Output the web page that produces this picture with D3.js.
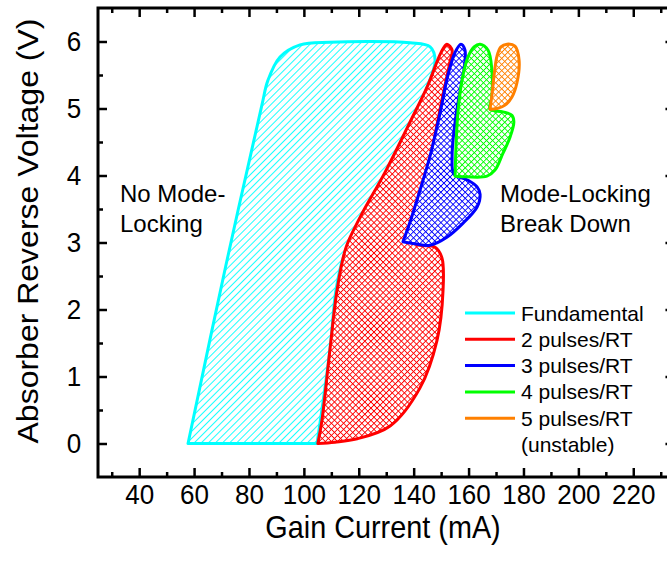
<!DOCTYPE html>
<html>
<head>
<meta charset="utf-8">
<script src="https://cdn.jsdelivr.net/npm/d3@7"></script>
<style>
  body { margin: 0; background: #fff; overflow: hidden; }
  text { font-family: "Liberation Sans", Arial, sans-serif; fill: #000; }
</style>
</head>
<body>
<div id="chart"></div>
<script>
// operating regions, [gain current (mA), absorber voltage (V)] outline points,
// each one starting at its sharp corner
const fundamental = [
  [104.8, 0.0], [109.5, 1.40], [111.7, 2.29], [114.6, 2.81], [120.4, 3.31],
  [129.6, 3.99], [138.7, 4.74], [145.2, 5.35], [147.8, 5.72], [146.0, 5.92], [138.7, 5.98],
  [109.5, 5.99], [98.6, 5.95], [91.3, 5.77], [86.9, 5.42], [84.7, 5.05], [71.6, 2.66], [57.8, 0.0]
];
const twoPulses = [
  [105.1, 0.0], [111.3, 0.02], [119.4, 0.07], [131.4, 0.26], [142.3, 0.83], [148.5, 1.54],
  [150.7, 2.29], [150.3, 2.77], [147.8, 2.93], [140.5, 2.99], [143.0, 3.63], [146.7, 4.38],
  [150.3, 5.13], [153.2, 5.69], [154.0, 5.87], [152.1, 5.96], [149.9, 5.83], [145.2, 5.35],
  [138.7, 4.80], [129.6, 4.05], [120.4, 3.37], [115.3, 2.92], [112.1, 2.29], [109.5, 1.40],
  [106.6, 0.35]
];
const threePulses = [
  [136.1, 3.01], [138.7, 3.31], [142.3, 3.78], [145.9, 4.28], [149.6, 4.93], [152.5, 5.50],
  [155.1, 5.84], [157.2, 5.96], [158.7, 5.87], [158.3, 5.57], [156.5, 5.17], [154.7, 4.67],
  [154.0, 4.28], [154.7, 4.02], [159.8, 3.93], [163.1, 3.83], [164.2, 3.72], [163.1, 3.53],
  [158.0, 3.29], [152.1, 3.08], [145.9, 2.96], [140.5, 2.98]
];
const fourPulses = [
  [155.1, 3.99], [155.4, 4.42], [156.1, 4.93], [157.6, 5.42], [159.8, 5.77], [162.0, 5.92],
  [164.2, 5.96], [167.1, 5.87], [168.5, 5.57], [168.5, 5.17], [167.8, 4.99], [172.5, 4.95],
  [175.8, 4.90], [176.5, 4.80], [175.1, 4.57], [172.5, 4.33], [169.6, 4.08], [166.7, 3.99],
  [159.4, 3.98]
];
const fivePulses = [
  [167.8, 4.99], [168.5, 5.20], [169.3, 5.50], [170.4, 5.79], [171.8, 5.92], [174.0, 5.96],
  [176.9, 5.93], [178.4, 5.72], [177.6, 5.38], [175.8, 5.17], [173.3, 5.05], [170.4, 5.00]
];

const seriesNames = ["Fundamental", "2 pulses/RT", "3 pulses/RT", "4 pulses/RT", "5 pulses/RT"];
const seriesColors = ["#00ffff", "#ff0000", "#0000ff", "#00ff00", "#ff8000"];
const currentTicks = [40, 60, 80, 100, 120, 140, 160, 180, 200, 220];
const currentMinor = [30, 50, 70, 90, 110, 130, 150, 170, 190, 210, 230];
const voltageTicks = [0, 1, 2, 3, 4, 5, 6];
const voltageMinor = [0.5, 1.5, 2.5, 3.5, 4.5, 5.5];

const width = 680, height = 563;
const plotLeft = 98, plotTop = 8, plotBottom = 477;
const squeeze = "scale(0.93,1)"; // the source text is a bit narrow

const svg = d3.select("#chart").append("svg")
  .attr("width", width)
  .attr("height", height);

const x = d3.scaleLinear().domain([25, 235]).range([plotLeft, plotLeft + 210 * 2.745]);
const y = d3.scaleLinear().domain([-0.5, 6.5]).range([plotBottom, plotTop]);
const plotRight = x.range()[1];

// fill patterns: single hatch for fundamental, fine cross hatch for the rest
const defs = svg.append("defs");
const hatch = defs.append("pattern")
  .attr("id", "hatch0")
  .attr("patternUnits", "userSpaceOnUse")
  .attr("width", 5).attr("height", 5)
  .attr("patternTransform", "rotate(45)");
hatch.append("rect").attr("width", 5).attr("height", 5).attr("fill", "#fff");
hatch.append("line").attr("x1", 0).attr("y1", 0).attr("x2", 0).attr("y2", 5)
  .attr("stroke", seriesColors[0]).attr("stroke-width", 1.8);

seriesColors.slice(1).forEach((c, i) => {
  const p = defs.append("pattern")
    .attr("id", "hatch" + (i + 1))
    .attr("patternUnits", "userSpaceOnUse")
    .attr("width", 4.3).attr("height", 4.3)
    .attr("patternTransform", "rotate(45)");
  p.append("rect").attr("width", 4.3).attr("height", 4.3).attr("fill", "#fff");
  p.append("line").attr("x1", 0).attr("y1", 0).attr("x2", 0).attr("y2", 4.3)
    .attr("stroke", c).attr("stroke-width", 1.8);
  p.append("line").attr("x1", 0).attr("y1", 0).attr("x2", 4.3).attr("y2", 0)
    .attr("stroke", c).attr("stroke-width", 1.8);
});

const outline = d3.line()
  .x(d => x(d[0]))
  .y(d => y(d[1]))
  .curve(d3.curveCatmullRom.alpha(0.5));

// fundamental closes with a straight base at 0 V, the others return to their corner
const regions = [fundamental, twoPulses, threePulses, fourPulses, fivePulses];
svg.append("g").selectAll("path")
  .data(regions)
  .join("path")
  .attr("d", (d, i) => outline(i === 0 ? d : d.concat([d[0]])) + "Z")
  .attr("fill", (d, i) => `url(#hatch${i})`)
  .attr("stroke", (d, i) => seriesColors[i])
  .attr("stroke-width", 3)
  .attr("stroke-linejoin", "round");

// axes, ticks drawn inward on all four sides
const tickStyle = g => {
  g.select(".domain").remove();
  g.selectAll(".tick line").attr("stroke", "#000").attr("stroke-width", 2.5);
  g.selectAll(".tick text")
    .style("font-size", "28px")
    .attr("fill", "#000")
    .attr("transform", squeeze);
};

svg.append("g").attr("transform", `translate(0,${plotBottom})`)
  .call(d3.axisBottom(x).tickValues(currentTicks).tickSize(-9).tickPadding(7))
  .call(tickStyle);
svg.append("g").attr("transform", `translate(0,${plotBottom})`)
  .call(d3.axisBottom(x).tickValues(currentMinor).tickSize(-5).tickFormat(""))
  .call(tickStyle);
svg.append("g").attr("transform", `translate(0,${plotTop})`)
  .call(d3.axisTop(x).tickValues(currentTicks).tickSize(-9).tickFormat(""))
  .call(tickStyle);
svg.append("g").attr("transform", `translate(0,${plotTop})`)
  .call(d3.axisTop(x).tickValues(currentMinor).tickSize(-5).tickFormat(""))
  .call(tickStyle);

svg.append("g").attr("transform", `translate(${plotLeft},0)`)
  .call(d3.axisLeft(y).tickValues(voltageTicks).tickSize(-9).tickPadding(18).tickFormat(d3.format("d")))
  .call(tickStyle);
svg.append("g").attr("transform", `translate(${plotLeft},0)`)
  .call(d3.axisLeft(y).tickValues(voltageMinor).tickSize(-5).tickFormat(""))
  .call(tickStyle);
svg.append("g").attr("transform", `translate(${plotRight},0)`)
  .call(d3.axisRight(y).tickValues(voltageTicks).tickSize(-9).tickFormat(""))
  .call(tickStyle);
svg.append("g").attr("transform", `translate(${plotRight},0)`)
  .call(d3.axisRight(y).tickValues(voltageMinor).tickSize(-5).tickFormat(""))
  .call(tickStyle);

svg.append("rect")
  .attr("x", plotLeft).attr("y", plotTop)
  .attr("width", plotRight - plotLeft).attr("height", plotBottom - plotTop)
  .attr("fill", "none").attr("stroke", "#000").attr("stroke-width", 3);

// axis titles
svg.append("text")
  .attr("transform", `translate(383,538) ${squeeze}`)
  .attr("text-anchor", "middle")
  .style("font-size", "31px")
  .text("Gain Current (mA)");
svg.append("text")
  .attr("transform", `translate(38,231) ${squeeze} rotate(-90)`)
  .attr("text-anchor", "middle")
  .style("font-size", "32px")
  .text("Absorber Reverse Voltage (V)");

// annotations
const noteStyle = s => s.style("font-size", "24px");
svg.append("text").attr("x", 120).attr("y", 202).call(noteStyle).text("No Mode-");
svg.append("text").attr("x", 120).attr("y", 232).call(noteStyle).text("Locking");
svg.append("text").attr("x", 500).attr("y", 202).call(noteStyle).text("Mode-Locking");
svg.append("text").attr("x", 500).attr("y", 232).call(noteStyle).text("Break Down");

// legend
const legend = svg.append("g").attr("transform", "translate(465,313)");
const rows = legend.selectAll("g")
  .data(seriesNames)
  .join("g")
  .attr("transform", (d, i) => `translate(0,${i * 26.3})`);
rows.append("line")
  .attr("x1", 0).attr("x2", 50)
  .attr("stroke", (d, i) => seriesColors[i])
  .attr("stroke-width", 3);
rows.append("text")
  .attr("x", 56).attr("y", 7.5)
  .style("font-size", "21px")
  .text(d => d);
legend.append("text")
  .attr("x", 56).attr("y", 7.5 + 5 * 26.3)
  .style("font-size", "21px")
  .text("(unstable)");
</script>
</body>
</html>
